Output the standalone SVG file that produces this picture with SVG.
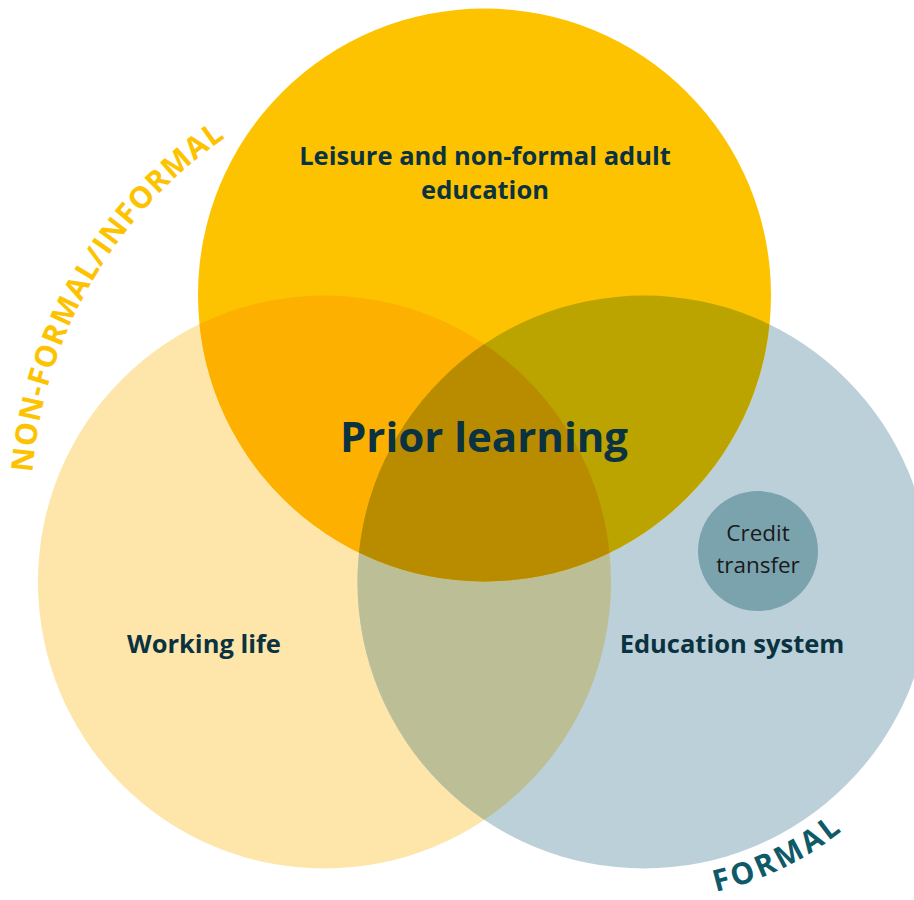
<svg xmlns="http://www.w3.org/2000/svg" width="914" height="900" viewBox="0 0 914 900">
<style>
.lbl{font-family:"Open Sans","Noto Sans",sans-serif;font-weight:bold;fill:#0B3240;text-anchor:middle}
.sm{font-family:"Open Sans","Noto Sans",sans-serif;fill:#1A1A1A;text-anchor:middle;font-size:22.5px}
.arc{font-family:"Open Sans","Noto Sans",sans-serif;font-weight:bold;font-size:30px}
</style>
<defs>
<clipPath id="cl"><circle cx="324.5" cy="582" r="286.5"/></clipPath>
<clipPath id="cr"><circle cx="644" cy="582" r="286.5"/></clipPath>
<path id="arcNF" d="M 31 508 A 450 450 0 0 1 256 118.3"/>
<path id="arcF" d="M 616.3 898.8 A 318 318 0 0 0 910.7 755.2"/>
</defs>
<rect width="914" height="900" fill="#FFFFFF"/>
<g id="left-circle"><circle cx="324.5" cy="582" r="286.5" fill="#FEE5A9"/></g>
<g id="right-circle"><circle cx="644" cy="582" r="286.5" fill="#BCD0D9"/></g>
<g id="top-circle"><circle cx="484.5" cy="295" r="286.5" fill="#FDC300"/></g>
<g id="overlaps">
<circle cx="644" cy="582" r="286.5" fill="#BCBE95" clip-path="url(#cl)"/>
<circle cx="484.5" cy="295" r="286.5" fill="#FDB000" clip-path="url(#cl)"/>
<circle cx="484.5" cy="295" r="286.5" fill="#BBA300" clip-path="url(#cr)"/>
<g clip-path="url(#cl)"><circle cx="484.5" cy="295" r="286.5" fill="#B98C00" clip-path="url(#cr)"/></g>
</g>
<g id="credit-transfer">
<circle cx="758" cy="551" r="60" fill="#7BA3AE"/>
<text class="sm" x="758" y="541">Credit</text>
<text class="sm" x="758" y="573">transfer</text>
</g>
<g id="labels">
<text class="lbl" x="485" y="165" font-size="25.5">Leisure and non-formal adult</text>
<text class="lbl" x="485" y="199" font-size="25.5">education</text>
<text class="lbl" x="484" y="452" font-size="42">Prior learning</text>
<text class="lbl" x="204" y="653" font-size="25.5">Working life</text>
<text class="lbl" x="732" y="653" font-size="25.5">Education system</text>
</g>
<g id="arc-labels">
<text class="arc" fill="#FDC300"><textPath href="#arcNF" startOffset="50%" text-anchor="middle" letter-spacing="1">NON-FORMAL/INFORMAL</textPath></text>
<text class="arc" fill="#0F5A68"><textPath href="#arcF" startOffset="50%" text-anchor="middle" letter-spacing="3">FORMAL</textPath></text>
</g>
</svg>
